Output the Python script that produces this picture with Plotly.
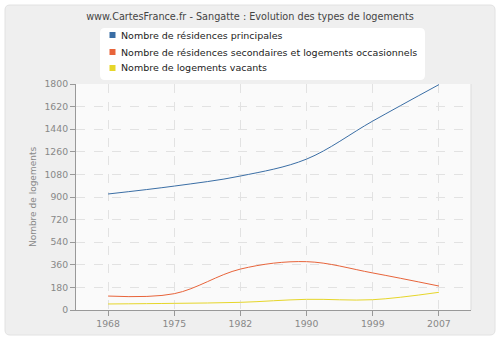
import plotly.graph_objects as go

years = ["1968", "1975", "1982", "1990", "1999", "2007"]
principales = [924, 987, 1067, 1202, 1505, 1795]
secondaires = [111, 130, 326, 385, 295, 191]
vacants = [48, 53, 61, 85, 82, 141]
y_ticks = [0, 180, 360, 540, 720, 900, 1080, 1260, 1440, 1620, 1800]

series = [
    ("Nombre de résidences principales", principales, "#3a6ea5"),
    ("Nombre de résidences secondaires et logements occasionnels", secondaires, "#e8643a"),
    ("Nombre de logements vacants", vacants, "#e6d62a"),
]

W, H = 500, 340
ml, mr, mt, mb = 76, 29, 84, 30
pw, ph = W - ml - mr, H - mt - mb

def px(x):
    return (x - ml) / pw

def py(y):
    return (H - mb - y) / ph

fig = go.Figure()
legend_rows = [35, 52, 68]
annotations = []
legend_shapes = []
for (name, vals, col), ry in zip(series, legend_rows):
    fig.add_trace(go.Scatter(x=years, y=vals, name=name, mode="lines", showlegend=False,
                             line=dict(color=col, width=1, shape="spline", smoothing=1.0)))
    legend_shapes.append(dict(type="rect", xref="paper", yref="paper",
                              x0=px(109.5), x1=px(115.5), y0=py(ry - 3), y1=py(ry + 3),
                              fillcolor=col, line=dict(width=0)))
    annotations.append(dict(text=name, xref="paper", yref="paper", x=px(119), y=py(ry),
                            xanchor="left", yanchor="middle", showarrow=False,
                            font=dict(size=9.5, color="#222")))

FONT = "DejaVu Sans"

fig.update_layout(
    width=W, height=H,
    margin=dict(l=ml, r=mr, t=mt, b=mb, autoexpand=False),
    paper_bgcolor="white",
    plot_bgcolor="#fafafa",
    font=dict(family=FONT, size=9.5, color="#888"),
    title=dict(text="www.CartesFrance.fr - Sangatte : Evolution des types de logements",
               x=0.5, xanchor="center", y=1 - 17 / H, yanchor="middle",
               font=dict(size=9.7, color="#444")),
    showlegend=False,
    annotations=annotations,
    xaxis=dict(type="category", range=[-0.485, 5.485],
               showgrid=True, gridcolor="#e2e2e2", griddash="dash", gridwidth=1,
               showline=True, linecolor="#999", linewidth=1,
               ticks="outside", ticklen=5, tickcolor="#999",
               tickfont=dict(size=9.3, color="#888"), zeroline=False),
    yaxis=dict(range=[0, 1800], tickvals=y_ticks,
               showgrid=True, gridcolor="#e2e2e2", griddash="dash", gridwidth=1,
               showline=True, linecolor="#999", linewidth=1,
               ticks="outside", ticklen=5, tickcolor="#999",
               tickfont=dict(size=9.3, color="#888"), zeroline=False,
               title=dict(text="Nombre de logements", font=dict(size=9, color="#888"),
                          standoff=6)),
    shapes=[
        dict(type="path", xref="paper", yref="paper", layer="below",
             path=f"M {px(10)} {py(5)} L {px(490)} {py(5)} Q {px(495)} {py(5)} {px(495)} {py(10)} "
                  f"L {px(495)} {py(330)} Q {px(495)} {py(335)} {px(490)} {py(335)} "
                  f"L {px(10)} {py(335)} Q {px(5)} {py(335)} {px(5)} {py(330)} "
                  f"L {px(5)} {py(10)} Q {px(5)} {py(5)} {px(10)} {py(5)} Z",
             fillcolor="#efefef", line=dict(color="#e2e2e2", width=1)),
        dict(type="path", xref="paper", yref="paper", layer="below",
             path=f"M {px(105)} {py(28)} L {px(420)} {py(28)} Q {px(425)} {py(28)} {px(425)} {py(33)} "
                  f"L {px(425)} {py(75)} Q {px(425)} {py(80)} {px(420)} {py(80)} "
                  f"L {px(105)} {py(80)} Q {px(100)} {py(80)} {px(100)} {py(75)} "
                  f"L {px(100)} {py(33)} Q {px(100)} {py(28)} {px(105)} {py(28)} Z",
             fillcolor="white", line=dict(width=0)),
        dict(type="rect", xref="paper", yref="paper", layer="below",
             x0=0, x1=1, y0=0, y1=1, fillcolor="#fafafa", line=dict(width=0)),
        dict(type="line", xref="paper", yref="paper", x0=1, x1=1, y0=0, y1=1,
             line=dict(color="#dddddd", width=1)),
    ] + legend_shapes,
)

fig.write_html("out.html")
